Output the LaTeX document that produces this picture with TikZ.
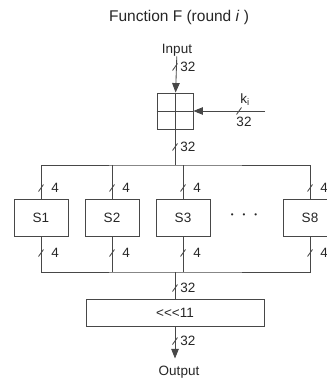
\documentclass[tikz,border=0pt]{standalone}
\usepackage{fontspec}
\setmainfont{Liberation Sans}
\usetikzlibrary{arrows.meta,calc}

% slash across a wire, with its width written beside it
\newcommand{\buswidth}[3][4]{%
  \draw[wire] ($#2+(-2.5,3.5)$) -- ($#2+(2.5,-3.5)$);
  \node[lbl,anchor=west] at ($#2+(#1,0)$) {#3};}

\begin{document}
\begin{tikzpicture}[x=1pt,y=-1pt,line width=0.85pt,
    wire/.style={draw=black!72},
    arr/.style={wire,-{Triangle[length=9.5pt,width=7.5pt]}},
    lbl/.style={text=black!85,inner sep=0pt,font=\fontsize{13.5}{15}\selectfont},
    sbox/.style={wire,lbl,minimum width=54pt,minimum height=37pt}]
  \useasboundingbox (0,0) rectangle (326,382);

  \node[lbl,font=\fontsize{15.5}{17}\selectfont] (title) at (179,17) {Function F (round \textit{i} )};
  \node[lbl] (in) at (177,50) {Input};

  % key addition
  \node[wire,minimum size=36pt,inner sep=0pt] (add) at (175,111) {};
  \draw[wire] (add.north) -- (add.south) (add.west) -- (add.east);
  \node[lbl] (ki) at (245,100) {k\textsubscript{i}};
  \coordinate (kin) at (265,111);
  \draw[arr] (in) -- (add);
  \draw[arr] (kin) -- (add.east);
  \buswidth[5]{(175,67)}{32}
  \draw[wire] (236.5,114.5) -- (241.5,107.5);
  \node[lbl] (k32) at (244,122) {32};

  % S-boxes
  \node[sbox] (s1) at (41,218) {S1};
  \node[sbox] (s2) at (112,218) {S2};
  \node[sbox] (s3) at (183,218) {S3};
  \node[sbox] (s8) at (310,218) {S8};
  \node[lbl,font=\fontsize{8}{9}\selectfont] (dots) at (244,216) {\textbullet\hspace{9pt}\textbullet\hspace{9pt}\textbullet};

  \coordinate (split) at (175,165);
  \coordinate (join) at (175,272);
  \draw[wire] (add.south) -- (split);
  \draw[wire] (s1.north) |- (split) -| (s8.north);
  \draw[wire] (s1.south) |- (join) -| (s8.south);
  \foreach \s in {s2,s3} {
    \draw[wire] (\s.north) -- (\s.north |- split);
    \draw[wire] (\s.south) -- (\s.south |- join);
  }
  \buswidth[5]{(175,147)}{32}
  \foreach \x in {41,112,183,310} {
    \buswidth[10]{(\x,188)}{4}
    \buswidth[10]{(\x,253)}{4}
  }

  % rotation and output
  \node[wire,lbl,minimum width=178pt,minimum height=27pt] (rot) at (175,312.5) {<{}<{}<11};
  \node[lbl] (out) at (179,372) {Output};
  \draw[wire] (join) -- (rot.north);
  \buswidth[5]{(175,288)}{32}
  \draw[arr,shorten >=7pt] (rot.south) -- (rot.south |- out.north);
  \buswidth[5]{(175,341)}{32}
\end{tikzpicture}
\end{document}
